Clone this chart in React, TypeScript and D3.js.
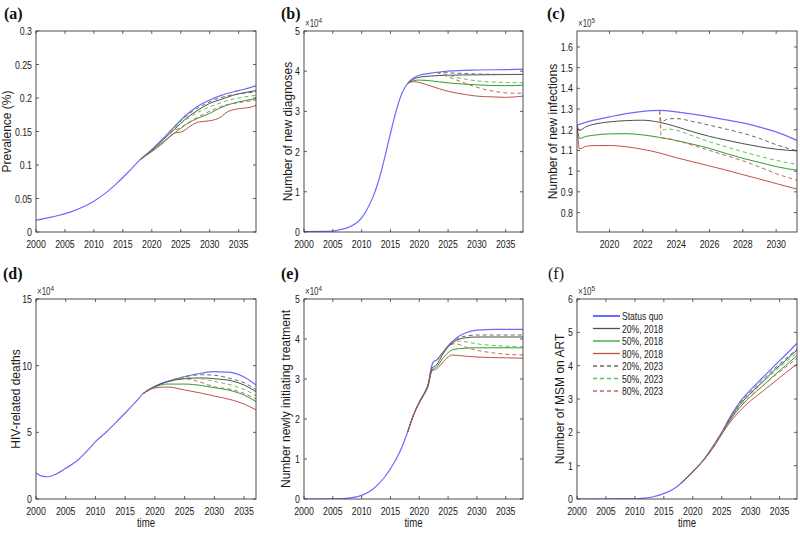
import React from 'react';
import * as d3 from 'd3';

type P = [number, number];

// ---------- legend / series styling ----------
const seriesNames = ['Status quo', '20%, 2018', '50%, 2018', '80%, 2018', '20%, 2023', '50%, 2023', '80%, 2023'];
const seriesColors = ['#6b6bff', '#4d4d4d', '#2e9e2e', '#c05050', '#6a6a6a', '#5cc45c', '#c86464'];
const seriesDash = ['', '', '', '', '4,3', '4,3', '4,3'];
const seriesWidth = [1.2, 1, 1, 1, 1, 1, 1];

// ---------- (a) Prevalence (%) ----------
const aSQ: P[] = [[2000,0.0175],[2002,0.021],[2004,0.025],[2006,0.03],[2008,0.037],[2010,0.046],[2012,0.058],[2014,0.073],[2016,0.09],[2018,0.108],[2020,0.123],[2022,0.14],[2024,0.158],[2026,0.175],[2028,0.188],[2030,0.197],[2032,0.204],[2034,0.209],[2036,0.213],[2038,0.218]];
const a20_18: P[] = [[2018,0.108],[2020,0.122],[2022,0.138],[2024,0.154],[2026,0.17],[2028,0.182],[2030,0.192],[2032,0.198],[2034,0.204],[2036,0.208],[2038,0.211]];
const a50_18: P[] = [[2018,0.108],[2020,0.121],[2022,0.135],[2024,0.148],[2026,0.161],[2028,0.17],[2030,0.177],[2032,0.186],[2034,0.192],[2036,0.196],[2038,0.199]];
const a80_18: P[] = [[2018,0.108],[2020,0.12],[2022,0.133],[2024,0.148],[2025,0.149],[2027,0.16],[2028,0.164],[2030,0.166],[2031,0.168],[2032,0.172],[2033,0.179],[2035,0.184],[2037,0.186],[2038,0.189]];
const a20_23: P[] = [[2023,0.149],[2025,0.166],[2027,0.18],[2029,0.19],[2031,0.198],[2033,0.203],[2035,0.206],[2038,0.209]];
const a50_23: P[] = [[2023,0.149],[2025,0.162],[2027,0.174],[2029,0.183],[2031,0.19],[2033,0.196],[2035,0.2],[2038,0.204]];
const a80_23: P[] = [[2023,0.149],[2025,0.156],[2027,0.167],[2029,0.176],[2031,0.184],[2033,0.19],[2035,0.193],[2038,0.197]];

// ---------- (b) Number of new diagnoses (x10^4) ----------
const bSQ: P[] = [[2000,0.01],[2005,0.02],[2006,0.05],[2008,0.13],[2010,0.35],[2011,0.58],[2012,0.88],[2013,1.3],[2014,1.85],[2015,2.45],[2016,3.02],[2017,3.45],[2018,3.7],[2019,3.83],[2020,3.9],[2022,3.95],[2025,4.0],[2030,4.03],[2035,4.04],[2038,4.05]];
const b20_18: P[] = [[2018,3.7],[2019,3.8],[2020,3.85],[2022,3.88],[2025,3.9],[2030,3.91],[2038,3.92]];
const b50_18: P[] = [[2018,3.7],[2019,3.76],[2020,3.78],[2022,3.76],[2025,3.71],[2030,3.66],[2035,3.64],[2038,3.65]];
const b80_18: P[] = [[2018,3.7],[2019,3.74],[2020,3.72],[2022,3.63],[2025,3.5],[2028,3.42],[2030,3.38],[2033,3.36],[2035,3.35],[2038,3.38]];
const b20_23: P[] = [[2023,3.97],[2025,3.96],[2030,3.93],[2035,3.92],[2038,3.92]];
const b50_23: P[] = [[2023,3.97],[2025,3.9],[2028,3.8],[2030,3.76],[2035,3.72],[2038,3.71]];
const b80_23: P[] = [[2023,3.97],[2025,3.86],[2028,3.7],[2030,3.6],[2033,3.5],[2035,3.46],[2038,3.45]];

// ---------- (c) Number of new infections (x10^5) ----------
const cSQ: P[] = [[2018.05,1.222],[2019,1.245],[2020,1.262],[2021,1.278],[2022,1.289],[2023,1.294],[2024,1.286],[2025,1.275],[2026,1.262],[2027,1.248],[2028,1.233],[2029,1.213],[2030,1.19],[2031.25,1.148]];
const c20_18: P[] = [[2018.05,1.222],[2018.2,1.197],[2018.6,1.215],[2019,1.225],[2020,1.238],[2021,1.244],[2022,1.246],[2023,1.236],[2024,1.215],[2025,1.19],[2026,1.168],[2027,1.15],[2028,1.133],[2029,1.118],[2030,1.106],[2031.25,1.098]];
const c50_18: P[] = [[2018.05,1.222],[2018.2,1.158],[2018.6,1.168],[2019,1.173],[2020,1.18],[2021,1.181],[2022,1.175],[2023,1.163],[2024,1.148],[2025,1.13],[2026,1.11],[2027,1.085],[2028,1.062],[2029,1.042],[2030,1.022],[2031.25,1.004]];
const c80_18: P[] = [[2018.05,1.222],[2018.2,1.108],[2018.6,1.12],[2019,1.123],[2020,1.124],[2021,1.118],[2022,1.105],[2023,1.088],[2024,1.065],[2025,1.045],[2026,1.025],[2027,1.005],[2028,0.983],[2029,0.962],[2030,0.94],[2031.25,0.913]];
const c20_23: P[] = [[2023,1.294],[2023.12,1.238],[2023.5,1.252],[2024,1.254],[2025,1.24],[2026,1.222],[2027,1.203],[2028,1.183],[2029,1.158],[2030,1.128],[2031.25,1.098]];
const c50_23: P[] = [[2023,1.294],[2023.12,1.198],[2023.5,1.204],[2024,1.198],[2025,1.17],[2026,1.142],[2027,1.118],[2028,1.094],[2029,1.072],[2030,1.052],[2031.25,1.033]];
const c80_23: P[] = [[2023,1.294],[2023.12,1.16],[2023.5,1.158],[2024,1.148],[2025,1.125],[2026,1.1],[2027,1.075],[2028,1.05],[2029,1.02],[2030,0.988],[2031.25,0.956]];

// ---------- (d) HIV-related deaths (x10^4) ----------
const dSQ: P[] = [[2000,1.95],[2001,1.72],[2002,1.67],[2003,1.8],[2005,2.3],[2007,2.9],[2009,3.8],[2010,4.3],[2012,5.1],[2014,6.0],[2015,6.45],[2017,7.4],[2018,7.9],[2020,8.45],[2022,8.8],[2024,9.05],[2026,9.28],[2028,9.45],[2030,9.55],[2032,9.52],[2033,9.48],[2035,9.15],[2037,8.55]];
const d20_18: P[] = [[2018,7.9],[2020,8.45],[2022,8.78],[2025,9.02],[2028,9.08],[2030,9.02],[2033,8.85],[2035,8.55],[2037,8.05]];
const d50_18: P[] = [[2018,7.9],[2020,8.4],[2022,8.62],[2025,8.62],[2028,8.5],[2030,8.35],[2033,8.1],[2035,7.8],[2037,7.3]];
const d80_18: P[] = [[2018,7.9],[2020,8.33],[2022,8.4],[2025,8.18],[2028,7.92],[2030,7.72],[2033,7.42],[2035,7.12],[2037,6.68]];
const d20_23: P[] = [[2023,8.95],[2025,9.18],[2028,9.32],[2030,9.28],[2033,9.0],[2035,8.72],[2037,8.2]];
const d50_23: P[] = [[2023,8.95],[2025,9.1],[2028,9.0],[2030,8.82],[2033,8.52],[2035,8.22],[2037,7.75]];
const d80_23: P[] = [[2023,8.95],[2025,9.02],[2027,8.85],[2030,8.42],[2033,8.2],[2035,7.92],[2037,7.5]];

// ---------- (e) Number newly initiating treatment (x10^4) ----------
const eSQ: P[] = [[2000,0],[2006,0.005],[2008,0.03],[2010,0.09],[2012,0.25],[2014,0.55],[2016,1.0],[2017,1.3],[2018,1.68],[2019,2.1],[2020,2.42],[2021,2.68],[2021.5,2.85],[2022.2,3.35],[2022.6,3.45],[2023,3.47],[2024,3.65],[2025,3.83],[2026,3.97],[2027,4.08],[2028,4.15],[2030,4.22],[2033,4.24],[2038,4.24]];
const e20_18: P[] = [[2018,1.68],[2019,2.1],[2020,2.42],[2021,2.68],[2021.5,2.84],[2022.2,3.27],[2023,3.35],[2024,3.6],[2025,3.8],[2026,3.93],[2027,4.0],[2028,4.03],[2030,4.05],[2038,4.05]];
const e50_18: P[] = [[2018,1.68],[2019,2.1],[2020,2.4],[2021,2.66],[2021.5,2.82],[2022.2,3.22],[2023,3.3],[2024,3.5],[2025,3.66],[2026,3.74],[2028,3.77],[2030,3.78],[2038,3.78]];
const e80_18: P[] = [[2018,1.68],[2019,2.1],[2020,2.4],[2021,2.65],[2021.5,2.8],[2022.2,3.2],[2023,3.25],[2024,3.4],[2025,3.55],[2025.6,3.6],[2028,3.57],[2030,3.55],[2035,3.53],[2038,3.52]];
const e20_23: P[] = [[2023,3.47],[2024,3.65],[2025,3.83],[2026,3.96],[2028,4.07],[2030,4.1],[2038,4.1]];
const e50_23: P[] = [[2023,3.47],[2024,3.64],[2025,3.8],[2026,3.9],[2027,3.95],[2028,3.93],[2030,3.88],[2035,3.82],[2038,3.8]];
const e80_23: P[] = [[2023,3.47],[2024,3.63],[2025,3.8],[2026,3.88],[2027,3.86],[2028,3.8],[2030,3.72],[2033,3.65],[2035,3.62],[2038,3.6]];

// ---------- (f) Number of MSM on ART (x10^5) ----------
const fSQ: P[] = [[2000,0],[2010,0.002],[2011,0.015],[2013,0.06],[2015,0.16],[2017,0.34],[2018,0.48],[2019,0.64],[2020,0.82],[2021,1.0],[2022,1.2],[2023,1.45],[2024,1.72],[2025,2.0],[2026,2.32],[2027,2.62],[2028,2.88],[2030,3.28],[2032,3.63],[2034,3.98],[2036,4.32],[2038,4.67]];
const f20_18: P[] = [[2018,0.48],[2020,0.82],[2022,1.2],[2024,1.7],[2025,1.98],[2026,2.28],[2028,2.8],[2030,3.18],[2032,3.5],[2034,3.85],[2036,4.15],[2038,4.47]];
const f50_18: P[] = [[2018,0.48],[2020,0.82],[2022,1.2],[2024,1.68],[2025,1.96],[2026,2.24],[2028,2.72],[2030,3.08],[2032,3.38],[2034,3.7],[2036,4.0],[2038,4.3]];
const f80_18: P[] = [[2018,0.48],[2020,0.82],[2022,1.19],[2024,1.66],[2025,1.94],[2026,2.2],[2028,2.62],[2030,2.95],[2032,3.22],[2034,3.5],[2036,3.78],[2038,4.05]];
const f20_23: P[] = [[2023,1.45],[2024,1.72],[2025,2.0],[2026,2.3],[2028,2.84],[2030,3.22],[2032,3.56],[2034,3.9],[2036,4.2],[2038,4.5]];
const f50_23: P[] = [[2023,1.45],[2024,1.71],[2025,1.99],[2026,2.28],[2028,2.8],[2030,3.15],[2032,3.48],[2034,3.8],[2036,4.1],[2038,4.38]];
const f80_23: P[] = [[2023,1.45],[2024,1.7],[2025,1.98],[2026,2.26],[2028,2.74],[2030,3.08],[2032,3.38],[2034,3.68],[2036,3.95],[2038,4.22]];

// ---------- tick values ----------
const yearTicks = [2000, 2005, 2010, 2015, 2020, 2025, 2030, 2035];
const cYearTicks = [2020, 2022, 2024, 2026, 2028, 2030];
const aYTicks = [0, 0.05, 0.1, 0.15, 0.2, 0.25, 0.3];
const bYTicks = [0, 1, 2, 3, 4, 5];
const cYTicks = [0.8, 0.9, 1, 1.1, 1.2, 1.3, 1.4, 1.5, 1.6];
const dYTicks = [0, 5, 10, 15];
const eYTicks = [0, 1, 2, 3, 4, 5];
const fYTicks = [0, 1, 2, 3, 4, 5, 6];

const panelLabels = ['(a)', '(b)', '(c)', '(d)', '(e)', '(f)'];
const yLabels = ['Prevalence (%)', 'Number of new diagnoses', 'Number of new infections', 'HIV-related deaths', 'Number newly initiating treatment', 'Number of MSM on ART'];
const exponents = ['', '4', '5', '4', '4', '5'];

// layout
const colX0 = [36, 304, 577];
const colX1 = [256, 523, 797];
const rowY0 = [31, 299];
const rowY1 = [232, 499];
const yLabelX = [11, 292, 557, 20, 290, 564];
const panelLabelX = [4, 281, 547, 3, 281, 548];

const FONT = "'Liberation Sans', Arial, Helvetica, sans-serif";
const SERIF = "'Liberation Serif', 'Times New Roman', 'DejaVu Serif', serif";
const SX = 0.8;

interface Panel {
  series: P[][];
  xDomain: [number, number];
  yDomain: [number, number];
  xTicks: number[];
  yTicks: number[];
  legend?: boolean;
  time?: boolean;
}

const panels: Panel[] = [
  { series: [aSQ, a20_18, a50_18, a80_18, a20_23, a50_23, a80_23], xDomain: [2000, 2038], yDomain: [0, 0.3], xTicks: yearTicks, yTicks: aYTicks },
  { series: [bSQ, b20_18, b50_18, b80_18, b20_23, b50_23, b80_23], xDomain: [2000, 2038], yDomain: [0, 5], xTicks: yearTicks, yTicks: bYTicks },
  { series: [cSQ, c20_18, c50_18, c80_18, c20_23, c50_23, c80_23], xDomain: [2018.05, 2031.25], yDomain: [0.706, 1.677], xTicks: cYearTicks, yTicks: cYTicks },
  { series: [dSQ, d20_18, d50_18, d80_18, d20_23, d50_23, d80_23], xDomain: [2000, 2037], yDomain: [0, 15], xTicks: yearTicks, yTicks: dYTicks, time: true },
  { series: [eSQ, e20_18, e50_18, e80_18, e20_23, e50_23, e80_23], xDomain: [2000, 2038], yDomain: [0, 5], xTicks: yearTicks, yTicks: eYTicks, time: true },
  { series: [fSQ, f20_18, f50_18, f80_18, f20_23, f50_23, f80_23], xDomain: [2000, 2038], yDomain: [0, 6], xTicks: yearTicks, yTicks: fYTicks, time: true, legend: true },
];

const fmt = (v: number) => String(+v.toFixed(2));

function Txt(props: { x: number; y: number; anchor?: string; size?: number; children: React.ReactNode; sx?: number }) {
  const { x, y, anchor = 'start', size = 11, children, sx = SX } = props;
  return (
    <text transform={`translate(${x},${y}) scale(${sx},1)`} textAnchor={anchor} fontSize={size} fontFamily={FONT} fill="#1a1a1a">
      {children}
    </text>
  );
}

function PanelView({ p, i }: { p: Panel; i: number }) {
  const col = i % 3;
  const row = Math.floor(i / 3);
  const x0 = colX0[col], x1 = colX1[col], y0 = rowY0[row], y1 = rowY1[row];
  const x = d3.scaleLinear().domain(p.xDomain).range([x0, x1]);
  const y = d3.scaleLinear().domain(p.yDomain).range([y1, y0]);
  const line = d3.line<P>().x(d => x(d[0])).y(d => y(d[1])).curve(d3.curveMonotoneX);
  const clipId = `clip${i}`;
  const tl = 3;
  const cx = (x0 + x1) / 2;
  const cy = (y0 + y1) / 2;
  return (
    <g>
      <defs>
        <clipPath id={clipId}>
          <rect x={x0} y={y0} width={x1 - x0} height={y1 - y0} />
        </clipPath>
      </defs>
      <rect x={x0} y={y0} width={x1 - x0} height={y1 - y0} fill="#fff" />
      <g clipPath={`url(#${clipId})`}>
        {p.series.map((s, k) => (
          <path key={k} d={line(s) || ''} fill="none" stroke={seriesColors[k]} strokeWidth={seriesWidth[k]}
            strokeDasharray={seriesDash[k] || undefined} />
        ))}
      </g>
      <rect x={x0} y={y0} width={x1 - x0} height={y1 - y0} fill="none" stroke="#3a3a3a" strokeWidth={0.9} />
      {p.xTicks.map(t => (
        <g key={`xt${t}`}>
          <line x1={x(t)} x2={x(t)} y1={y1} y2={y1 - tl} stroke="#3a3a3a" strokeWidth={0.8} />
          <line x1={x(t)} x2={x(t)} y1={y0} y2={y0 + tl} stroke="#3a3a3a" strokeWidth={0.8} />
          <Txt x={x(t)} y={y1 + 16} anchor="middle">{String(t)}</Txt>
        </g>
      ))}
      {p.yTicks.map(t => (
        <g key={`yt${t}`}>
          <line x1={x0} x2={x0 + tl} y1={y(t)} y2={y(t)} stroke="#3a3a3a" strokeWidth={0.8} />
          <line x1={x1} x2={x1 - tl} y1={y(t)} y2={y(t)} stroke="#3a3a3a" strokeWidth={0.8} />
          <Txt x={x0 - 4} y={y(t) + 4} anchor="end">{fmt(t)}</Txt>
        </g>
      ))}
      {exponents[i] && (
        <text transform={`translate(${x0 + 1},${y0 - 4}) scale(${SX},1)`} fontSize={10} fontFamily={FONT} fill="#333">
          ×10<tspan dy={-4} fontSize={8}>{exponents[i]}</tspan>
        </text>
      )}
      <text transform={`translate(${yLabelX[i]},${cy}) rotate(-90)`} textAnchor="middle" fontSize={12} fontFamily={FONT} fill="#1a1a1a">
        {yLabels[i]}
      </text>
      {p.time && <Txt x={cx} y={527} anchor="middle" size={12}>time</Txt>}
      <text x={panelLabelX[i]} y={row === 0 ? 19 : 279} fontSize={16} fontWeight={i === 5 ? 'normal' : 'bold'}
        fontFamily={SERIF} fill="#111">
        {panelLabels[i]}
      </text>
      {p.legend && (
        <g>
          {seriesNames.map((n, k) => {
            const ly = 316 + k * 12.5;
            return (
              <g key={n}>
                <line x1={593} x2={620} y1={ly} y2={ly} stroke={seriesColors[k]} strokeWidth={k === 0 ? 2 : 1.3}
                  strokeDasharray={seriesDash[k] || undefined} />
                <Txt x={622} y={ly + 4} size={11} sx={0.78}>{n}</Txt>
              </g>
            );
          })}
        </g>
      )}
    </g>
  );
}

export default function App() {
  return (
    <svg width={800} height={533} viewBox="0 0 800 533" style={{ position: 'absolute', left: 0, top: 0, background: '#fff' }}>
      <rect x={0} y={0} width={800} height={533} fill="#fff" />
      {panels.map((p, i) => <PanelView key={i} p={p} i={i} />)}
    </svg>
  );
}
